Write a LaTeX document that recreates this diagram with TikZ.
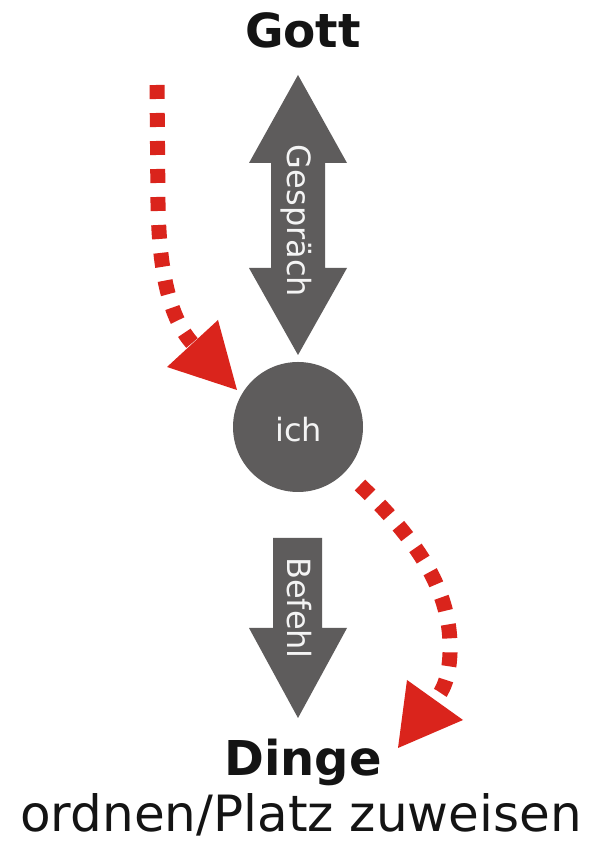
\documentclass[tikz,border=0pt]{standalone}
\usepackage{fontspec}
\setmainfont{DejaVu Sans}
\definecolor{arrgray}{HTML}{5E5C5C}
\definecolor{arrred}{HTML}{DA241C}
\definecolor{txtwhite}{HTML}{F4F4F4}
\definecolor{txtblack}{HTML}{141414}
\begin{document}
\begin{tikzpicture}[x=1pt,y=1pt,
  graybox/.style={fill=arrgray,draw=none},
  redline/.style={draw=arrred,line width=15pt,dash pattern=on 14pt off 14pt},
  redhead/.style={fill=arrred,draw=none},
  arrowtext/.style={text=txtwhite,font=\fontsize{32}{34}\selectfont,rotate=-90,anchor=base,inner sep=0pt},
  title/.style={text=txtblack,anchor=base,inner sep=0pt}]
\useasboundingbox (0,0) rectangle (601,843);
\fill[white] (0,0) rectangle (601,843);
% titles
\node[title,font=\bfseries\fontsize{47}{50}\selectfont] (gott) at (303,795) {Gott};
\node[title,font=\bfseries\fontsize{48}{50}\selectfont] (dinge) at (303,67) {Dinge};
\node[title,font=\fontsize{50}{52}\selectfont] (ordnen) at (301,12) {ordnen/Platz zuweisen};
% double arrow (Gespraech)
\fill[graybox] (298,768) -- (347,680) -- (325,680) -- (325,575) -- (347,575) -- (298,488)
  -- (249,575) -- (271,575) -- (271,680) -- (249,680) -- cycle;
\node[arrowtext] (gespraech) at (287,622) {Gespräch};
% ich circle
\node[circle,graybox,minimum size=130pt,inner sep=0pt] (ich) at (298,416) {};
\node[text=txtwhite,font=\fontsize{32}{34}\selectfont,anchor=base,inner sep=0pt] (ichtext) at (298.5,401) {ich};
% Befehl arrow
\fill[graybox] (273,305) -- (322,305) -- (322,215) -- (347,215) -- (298,125) -- (249,215) -- (273,215) -- cycle;
\node[arrowtext] (befehl) at (287,235) {Befehl};
% red dashed arrow 1
\coordinate (r1s) at (157,758);
\coordinate (r1m) at (158,640);
\coordinate (r1e) at (192,500);
\draw[redline] (r1s) -- (r1m) .. controls (159,570) and (170,525) .. (r1e);
\fill[redhead] (167,476) -- (218,523) -- (237,453) -- cycle;
% red dashed arrow 2
\coordinate (r2s) at (360,358);
\coordinate (r2m) at (450,190);
\coordinate (r2e) at (435,143);
\draw[redline] (r2s) .. controls (420,300) and (452,250) .. (r2m) .. controls (449,165) and (443,152) .. (r2e);
\fill[redhead] (407,163) -- (463,123) -- (398,95) -- cycle;
\end{tikzpicture}
\end{document}
